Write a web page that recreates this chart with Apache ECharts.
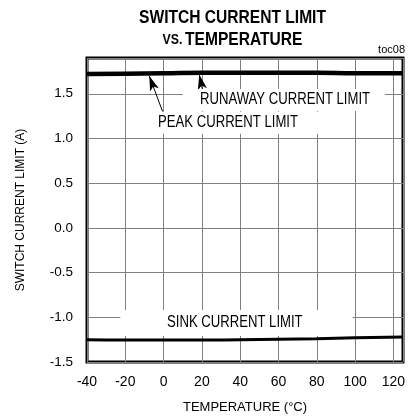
<!DOCTYPE html>
<html><head><meta charset="utf-8">
<script src="https://cdn.jsdelivr.net/npm/echarts@6/dist/echarts.min.js"></script>
<style>html,body{margin:0;padding:0;background:#fff}#c{width:410px;height:419px}</style>
</head><body><div id="c"></div>
<script>
const temps = [-40, -20, 0, 20, 40, 60, 80, 100, 125];
const runawayPeak = [1.72, 1.725, 1.73, 1.735, 1.735, 1.735, 1.735, 1.73, 1.73];
const sink = [-1.25, -1.255, -1.255, -1.255, -1.25, -1.245, -1.24, -1.23, -1.22];
const xTicks = [-40, -20, 0, 20, 40, 60, 80, 100, 120];
const yTicks = [-1.5, -1.0, -0.5, 0.0, 0.5, 1.0, 1.5];

const font = '"Liberation Sans", Arial, sans-serif';
const chart = echarts.init(document.getElementById('c'), null, {renderer: 'canvas'});
chart.setOption({
  animation: false,
  backgroundColor: '#fff',
  grid: {left: 87, right: 7, top: 58, bottom: 57, show: true, borderColor: '#000', borderWidth: 3, backgroundColor: 'transparent'},
  xAxis: {
    type: 'value', min: -40, max: 125, interval: 20,
    name: 'TEMPERATURE (°C)', nameLocation: 'middle', nameGap: 39,
    nameTextStyle: {fontFamily: font, fontSize: 13, color: '#000'},
    axisLine: {show: false}, axisTick: {show: false},
    axisLabel: {fontFamily: font, fontSize: 14, color: '#000', margin: 13,
      formatter: v => xTicks.includes(v) ? String(v) : ''},
    splitLine: {show: true, lineStyle: {color: '#808080', width: 1}}
  },
  yAxis: {
    type: 'value', min: -1.5, max: 1.9, interval: 0.5,
    name: 'SWITCH CURRENT LIMIT (A)', nameLocation: 'middle', nameGap: 60,
    nameTextStyle: {fontFamily: font, fontSize: 12, color: '#000'},
    axisLine: {show: false}, axisTick: {show: false},
    axisLabel: {fontFamily: font, fontSize: 13.5, color: '#000', margin: 14,
      formatter: v => yTicks.some(t => Math.abs(t - v) < 1e-9) ? v.toFixed(1) : ''},
    splitLine: {show: true, lineStyle: {color: '#808080', width: 1}}
  },
  series: [
    {type: 'line', data: temps.map((t, i) => [t, runawayPeak[i]]), showSymbol: false, smooth: true,
     lineStyle: {color: '#000', width: 4.5}, z: 5},
    {type: 'line', data: temps.map((t, i) => [t, sink[i]]), showSymbol: false, smooth: true,
     lineStyle: {color: '#000', width: 3}, z: 5,
     markLine: {silent: true, symbol: ['none', 'arrow'], symbolSize: [7, 15], label: {show: false},
       lineStyle: {color: '#000', width: 1, type: 'solid'},
       data: [
         [{coord: [-0.5, 1.30]}, {coord: [-7.5, 1.70]}],
         [{coord: [20.3, 1.55]}, {coord: [18.6, 1.715]}]
       ]}}
  ]
});

const S = 0.82;
function place() {
  const p = (x, y) => chart.convertToPixel({gridIndex: 0}, [x, y]);
  // x, y: data coords of the text's left edge / vertical middle
  const mk = (x, y, txt, pad) => {
    const q = p(x, y);
    return {type: 'text', x: q[0] - pad[3] * S, y: q[1], scaleX: S, z: 10,
      style: {text: txt, fontFamily: font, fontSize: 16, fill: '#000', align: 'left', verticalAlign: 'middle',
        backgroundColor: '#fff', padding: pad}};
  };
  chart.setOption({graphic: [
    {type: 'text', x: 232.5, y: 18, scaleX: S, z: 10, style: {text: 'SWITCH CURRENT LIMIT', fontFamily: font, fontWeight: 'bold',
      fontSize: 19, fill: '#000', align: 'center', verticalAlign: 'middle'}},
    {type: 'text', x: 232.5, y: 39.5, scaleX: S, z: 10, style: {text: '{a|VS.} {b|TEMPERATURE}', align: 'center', verticalAlign: 'middle',
      rich: {a: {fontFamily: font, fontWeight: 'bold', fontSize: 15, fill: '#000'},
             b: {fontFamily: font, fontWeight: 'bold', fontSize: 19, fill: '#000'}}}},
    {type: 'text', x: 405, y: 50, z: 10, style: {text: 'toc08', fontFamily: font, fontSize: 11, fill: '#000',
      align: 'right', verticalAlign: 'middle'}},
    mk(19.0, 1.43, 'RUNAWAY CURRENT LIMIT', [3, 18, 3, 21]),
    mk(-2.9, 1.176, 'PEAK CURRENT LIMIT', [3, 29, 3, 10]),
    mk(1.8, -1.064, 'SINK CURRENT LIMIT', [6, 61, 4, 57])
  ]});
}
place();
</script></body></html>
